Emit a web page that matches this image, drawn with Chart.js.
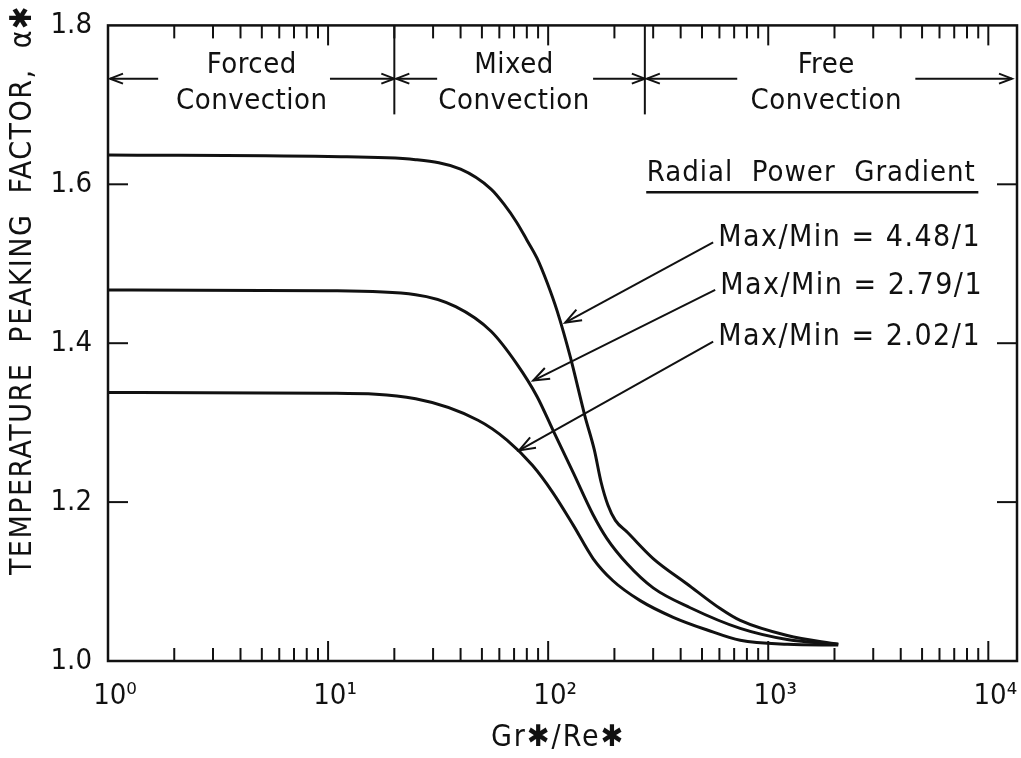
<!DOCTYPE html>
<html>
<head>
<meta charset="utf-8">
<script src="https://cdn.jsdelivr.net/npm/chart.js@4.4.0/dist/chart.umd.min.js"></script>
<style>
    html, body { margin: 0; padding: 0; background: #fff; }
    #wrap { width: 1021px; height: 758px; }
</style>
</head>
<body>
<div id="wrap"><canvas id="myChart" width="1021" height="758"></canvas></div>
<script>
// values (Gr*/Re* on a log axis, peaking factor)
const gradA_x = [1, 10, 25, 40, 55, 63, 72, 80, 89, 99, 110, 126, 147, 162, 174, 187, 202, 229, 300, 428, 605, 746, 1220, 2080];
const gradA_y = [1.637, 1.635, 1.631, 1.619, 1.594, 1.575, 1.552, 1.530, 1.507, 1.476, 1.440, 1.383, 1.308, 1.266, 1.225, 1.196, 1.177, 1.162, 1.129, 1.097, 1.066, 1.051, 1.032, 1.021];

const gradB_x = [1, 10, 25, 38, 55, 72, 89, 105, 130, 160, 185, 229, 300, 442, 746, 1220, 2080];
const gradB_y = [1.467, 1.466, 1.461, 1.446, 1.415, 1.374, 1.333, 1.291, 1.237, 1.184, 1.154, 1.122, 1.092, 1.067, 1.041, 1.027, 1.021];

const gradC_x = [1, 10, 25, 48, 65, 85, 105, 130, 160, 197, 262, 370, 528, 746, 1220, 2080];
const gradC_y = [1.338, 1.337, 1.330, 1.303, 1.278, 1.246, 1.212, 1.171, 1.129, 1.101, 1.076, 1.055, 1.039, 1.026, 1.021, 1.020];

const seriesLabels = ['Max/Min = 4.48/1', 'Max/Min = 2.79/1', 'Max/Min = 2.02/1'];

const xTicks = [1, 2, 3, 4, 5, 6, 7, 8, 9, 10, 20, 30, 40, 50, 60, 70, 80, 90, 100,
    200, 300, 400, 500, 600, 700, 800, 900, 1000, 2000, 3000, 4000, 5000, 6000, 7000, 8000, 9000, 10000];
const yTicks = [1.0, 1.2, 1.4, 1.6, 1.8];

const regimes = ['Forced', 'Mixed', 'Free'];
const regimeBounds = [1, 20, 275, 13500];

const ink = '#111';
const fontFam = "'DejaVu Sans Condensed', 'DejaVu Sans', sans-serif";
const sup = { '0': '\u2070', '1': '\u00b9', '2': '\u00b2', '3': '\u00b3', '4': '\u2074' };

const isPow10 = v => Math.abs(Math.log10(v) - Math.round(Math.log10(v))) < 1e-9;

// annotation placement in data units
const annot = {
    regimeTextX: [4.5, 70, 1835],
    regimeRowY: [1.750, 1.704],
    arrowRowY: 1.733,
    arrowTails: [[1.69, 10.2], [31.3, 160], [723, 4660]],
    dividerBottom: 1.688,
    headingX: 1568, headingY: 1.614, underlineY: 1.590, underline: [279, 9010],
    pointers: [
        { from: [562, 1.527], to: [119.5, 1.426] },
        { from: [574, 1.467], to: [85.5, 1.353] },
        { from: [562, 1.402], to: [73.8, 1.265] }
    ]
};

function line(ctx, x1, y1, x2, y2) {
    ctx.beginPath(); ctx.moveTo(x1, y1); ctx.lineTo(x2, y2); ctx.stroke();
}

function arrow(ctx, x1, y1, x2, y2, len, half) {
    // line from (x1,y1) with open head at (x2,y2)
    line(ctx, x1, y1, x2, y2);
    const ang = Math.atan2(y2 - y1, x2 - x1);
    const c = Math.cos(ang), s = Math.sin(ang);
    ctx.beginPath();
    ctx.moveTo(x2 - len * c + half * s, y2 - len * s - half * c);
    ctx.lineTo(x2, y2);
    ctx.lineTo(x2 - len * c - half * s, y2 - len * s + half * c);
    ctx.stroke();
}

function spaced(ctx, px) {
    if ('letterSpacing' in ctx) ctx.letterSpacing = px + 'px';
}

const decor = {
    id: 'decor',
    afterDraw(chart) {
        const { ctx, chartArea: a, scales: { x, y } } = chart;
        ctx.save();
        ctx.strokeStyle = ink;
        ctx.fillStyle = ink;
        ctx.lineCap = 'butt';

        // frame
        ctx.lineWidth = 2.5;
        ctx.strokeRect(a.left, a.top, a.right - a.left, a.bottom - a.top);

        // inward ticks
        ctx.lineWidth = 2;
        x.ticks.forEach(t => {
            const px = x.getPixelForValue(t.value);
            const len = isPow10(t.value) ? 20 : 13;
            line(ctx, px, a.bottom, px, a.bottom - len);
            line(ctx, px, a.top, px, a.top + len);
        });
        y.ticks.forEach(t => {
            if (t.value <= 1.0 || t.value >= 1.8) return;
            const py = y.getPixelForValue(t.value);
            line(ctx, a.left, py, a.left + 20, py);
            line(ctx, a.right, py, a.right - 20, py);
        });

        // regime dividers and span arrows
        const rowY = y.getPixelForValue(annot.arrowRowY);
        regimeBounds.slice(1, 3).forEach(b => {
            const px = x.getPixelForValue(b);
            line(ctx, px, a.top, px, y.getPixelForValue(annot.dividerBottom));
        });
        ctx.font = '29px ' + fontFam;
        ctx.textAlign = 'center';
        ctx.textBaseline = 'middle';
        spaced(ctx, 0.5);
        regimes.forEach((r, i) => {
            const lo = x.getPixelForValue(regimeBounds[i]) + 2;
            const hi = Math.min(x.getPixelForValue(regimeBounds[i + 1]), a.right - 5);
            arrow(ctx, x.getPixelForValue(annot.arrowTails[i][0]), rowY, lo, rowY, 13, 5);
            arrow(ctx, x.getPixelForValue(annot.arrowTails[i][1]), rowY, hi, rowY, 13, 5);
            const cx = x.getPixelForValue(annot.regimeTextX[i]);
            ctx.fillText(r, cx, y.getPixelForValue(annot.regimeRowY[0]));
            ctx.fillText('Convection', cx, y.getPixelForValue(annot.regimeRowY[1]));
        });

        // legend heading
        ctx.font = '29px ' + fontFam;
        spaced(ctx, 1);
        ctx.fillText('Radial  Power  Gradient', x.getPixelForValue(annot.headingX), y.getPixelForValue(annot.headingY));
        ctx.lineWidth = 2.5;
        const uy = y.getPixelForValue(annot.underlineY);
        line(ctx, x.getPixelForValue(annot.underline[0]), uy, x.getPixelForValue(annot.underline[1]), uy);

        // series labels with pointer arrows
        ctx.lineWidth = 2;
        ctx.textAlign = 'left';
        ctx.font = '30px ' + fontFam;
        spaced(ctx, 1.5);
        annot.pointers.forEach((p, i) => {
            const fx = x.getPixelForValue(p.from[0]), fy = y.getPixelForValue(p.from[1]);
            arrow(ctx, fx, fy, x.getPixelForValue(p.to[0]), y.getPixelForValue(p.to[1]), 16, 6);
            ctx.fillText(seriesLabels[i], fx + 5, fy - 4);
        });

        // axis titles
        ctx.font = '30px ' + fontFam;
        ctx.textAlign = 'center';
        spaced(ctx, 2);
        ctx.fillText('Gr\u2731/Re\u2731', x.getPixelForValue(111), a.bottom + 77);
        ctx.save();
        ctx.translate(23, y.getPixelForValue(1.467));
        ctx.rotate(-Math.PI / 2);
        spaced(ctx, 1.5);
        ctx.fillText('TEMPERATURE  PEAKING  FACTOR,  \u03b1\u2731', 0, 0);
        ctx.restore();

        spaced(ctx, 0);
        ctx.restore();
    }
};

const toPoints = (xs, ys) => xs.map((v, i) => ({ x: v, y: ys[i] }));
const curve = (lbl, xs, ys) => ({
    label: lbl,
    data: toPoints(xs, ys),
    borderColor: ink,
    borderWidth: 3,
    pointRadius: 0,
    fill: false,
    cubicInterpolationMode: 'monotone'
});

new Chart(document.getElementById('myChart'), {
    type: 'line',
    data: {
        datasets: [
            curve(seriesLabels[0], gradA_x, gradA_y),
            curve(seriesLabels[1], gradB_x, gradB_y),
            curve(seriesLabels[2], gradC_x, gradC_y)
        ]
    },
    options: {
        responsive: false,
        animation: false,
        layout: { padding: { top: 17, right: 4, left: 0, bottom: 0 } },
        plugins: { legend: { display: false }, tooltip: { enabled: false } },
        scales: {
            x: {
                type: 'logarithmic',
                min: 1,
                max: 13500,
                afterBuildTicks: s => { s.ticks = xTicks.map(v => ({ value: v, major: isPow10(v) })); },
                afterFit: s => { s.height = 97; },
                grid: { display: false },
                border: { display: false },
                ticks: {
                    autoSkip: false,
                    maxRotation: 0,
                    padding: 10,
                    labelOffset: 7,
                    color: ink,
                    font: { family: fontFam, size: 29 },
                    callback: v => isPow10(v) ? '10' + sup[String(Math.round(Math.log10(v)))] : ''
                }
            },
            y: {
                min: 1.0,
                max: 1.8,
                afterBuildTicks: s => { s.ticks = yTicks.map(v => ({ value: v })); },
                afterFit: s => { s.width = 108; },
                grid: { display: false },
                border: { display: false },
                ticks: {
                    padding: 8,
                    color: ink,
                    font: { family: fontFam, size: 29 },
                    callback: v => v.toFixed(1)
                }
            }
        }
    },
    plugins: [decor]
});
</script>
</body>
</html>
